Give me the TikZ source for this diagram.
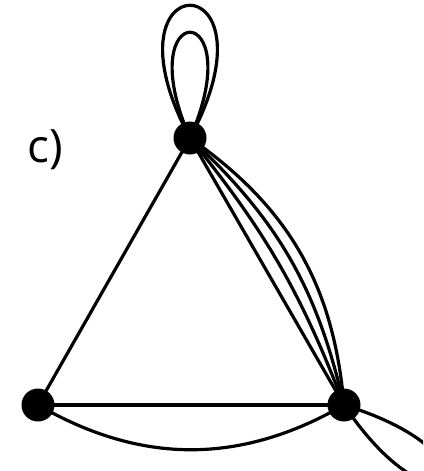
\documentclass[tikz,border=0pt]{standalone}
\usepackage{fontspec}
\setmainfont{Open Sans}
\begin{document}
\begin{tikzpicture}[x=1pt,y=-1pt,
  vtx/.style={circle,fill=black,inner sep=0pt,minimum size=33pt},
  edge/.style={line width=3.2pt,black}]
\clip (0,0) rectangle (423,471);
\useasboundingbox (0,0) rectangle (423,471);
\node[vtx] (t) at (190,138) {};
\node[vtx] (l) at (38,405) {};
\node[vtx] (r) at (344,405) {};
\node[font=\fontsize{46}{50}\selectfont] (lab) at (45,150) {c)};
\begin{scope}[edge]
\draw (t.center) -- (l.center);
\draw (l.center) -- (r.center);
\draw (l.center) to[bend right=30] (r.center);
\draw (t.center) -- (r.center);
\draw (t.center) to[bend left=9] (r.center);
\draw (t.center) to[bend left=17] (r.center);
\draw (t.center) to[bend left=25] (r.center);
\draw (t.center) .. controls +(-95,-177) and +(95,-177) .. (t.center);
\draw (t.center) .. controls +(-62,-141) and +(62,-141) .. (t.center);
\draw (r.center) .. controls +(17:175) and +(56:175) .. (r.center);
\end{scope}
\end{tikzpicture}
\end{document}
